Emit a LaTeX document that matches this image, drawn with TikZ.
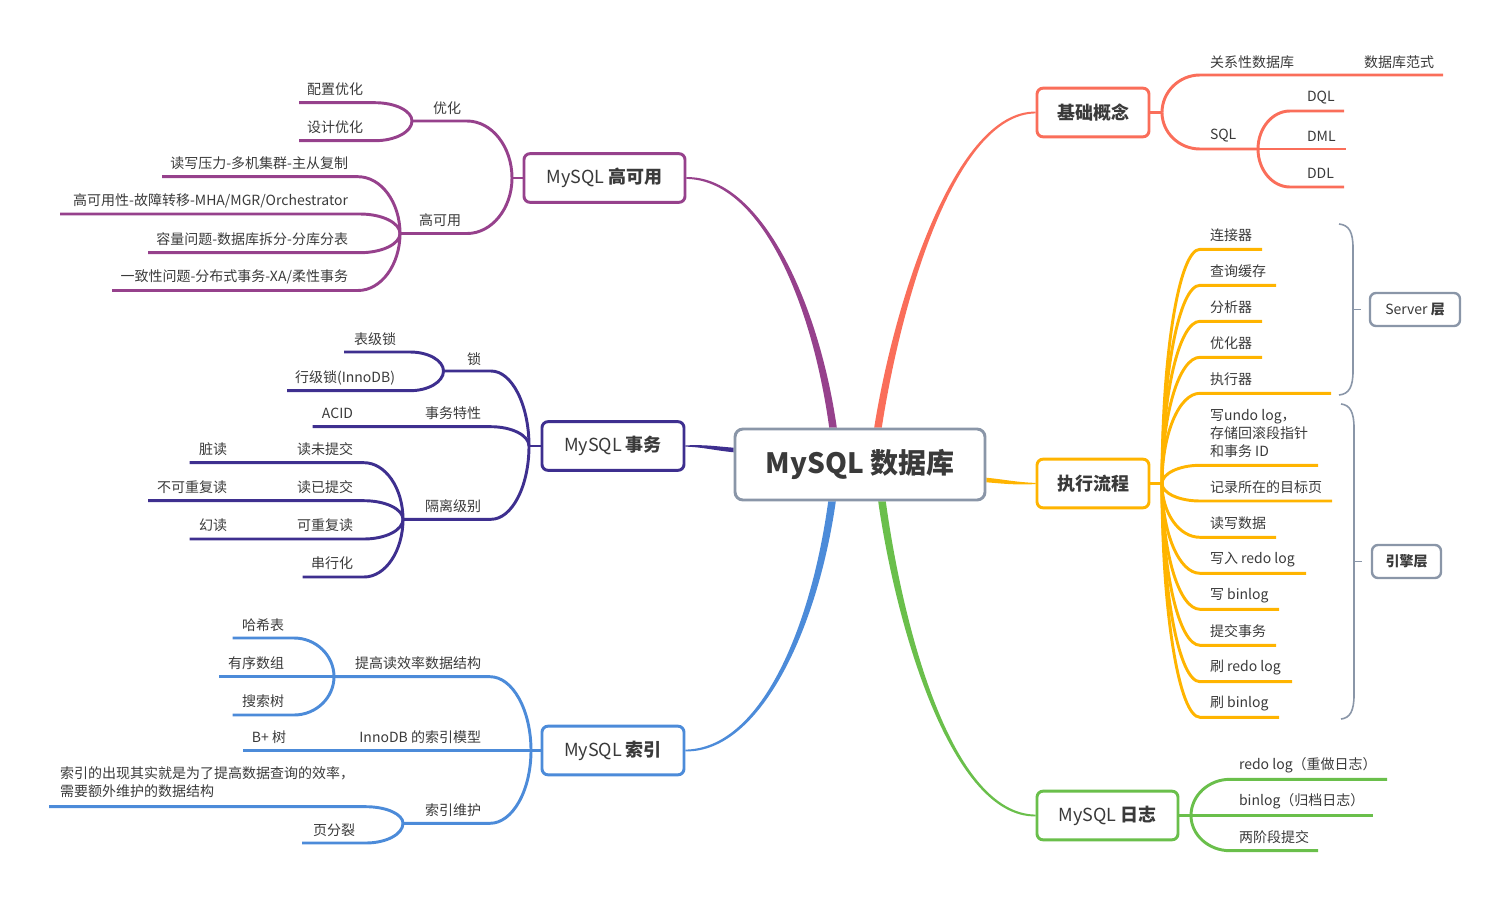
\documentclass[tikz,border=0pt]{standalone}
\usepackage{fontspec}
\setmainfont{Noto Sans CJK SC}
\usetikzlibrary{calc}
\pgfdeclarelayer{bg}
\pgfsetlayers{bg,main}
\definecolor{cRed}{HTML}{FA6E5A}
\definecolor{cYel}{HTML}{FFB400}
\definecolor{cGrn}{HTML}{6ABF4B}
\definecolor{cPur}{HTML}{96418C}
\definecolor{cInd}{HTML}{3E2F8F}
\definecolor{cBlu}{HTML}{4C8BD9}
\definecolor{cGry}{HTML}{8A96A8}
\definecolor{cTxt}{HTML}{3A3A3A}
\newcommand\kid[3]{\draw (#1) .. controls ($(#1)!0.55!(#1|-#2)$) and ($(#2)!0.55!(#1|-#2)$) .. (#2) -- (#3);}
\newcommand\taper[7]{\fill[#7] ($(#1)+#5$) .. controls ($(#2)+0.9*#5$) and ($(#3)+2.4*#6$) .. ($(#4)+#6$) -- ($(#4)-#6$) .. controls ($(#3)-2.4*#6$) and ($(#2)-0.9*#5$) .. ($(#1)-#5$) -- cycle;}
\tikzset{
  lbl/.style={font=\fontsize{10.5}{13.5}\selectfont, text=cTxt, inner sep=0pt, outer sep=0pt},
  lblL/.style={lbl, anchor=east},
  lblR/.style={lbl, anchor=west},
  topic/.style={draw, fill=white, rounded corners=4.5pt, line width=2.2pt, inner sep=0pt, text=cTxt, font=\fontsize{13.5}{16}\selectfont, minimum height=36.5pt},
  stopic/.style={draw=cGry, fill=white, rounded corners=4.5pt, line width=1.8pt, inner sep=0pt, text=cTxt, font=\fontsize{10.5}{13}\selectfont, minimum height=24.75pt},
  sub/.style={line width=2.2pt},
  brace/.style={draw=cGry, line width=1.2pt}
}
\begin{document}
\begin{tikzpicture}[x=0.75pt,y=-0.75pt]
\useasboundingbox (0,0) rectangle (1510,903);

% ---------- topics ----------
\node[draw=cGry, fill=white, rounded corners=6pt, line width=2.2pt, minimum width=187.5pt, minimum height=53.25pt, inner sep=0pt, font=\fontsize{21}{25}\selectfont\bfseries, text=cTxt] (root) at (860,464.5) {MySQL 数据库};
\node[topic, draw=cPur, minimum width=120.75pt] (ha) at (604.5,178) {MySQL \textbf{高可用}};
\node[topic, draw=cInd, minimum width=106.5pt] (tx) at (613,446) {MySQL \textbf{事务}};
\node[topic, draw=cBlu, minimum width=106.5pt] (idx) at (613,750.5) {MySQL \textbf{索引}};
\node[topic, draw=cRed, minimum width=84pt] (basic) at (1093,112.5) {\textbf{基础概念}};
\node[topic, draw=cYel, minimum width=84pt] (exec) at (1093,483.5) {\textbf{执行流程}};
\node[topic, draw=cGrn, minimum width=105.75pt] (log) at (1107.5,815.5) {MySQL \textbf{日志}};
\node[stopic, minimum width=67.5pt] (srv) at (1415,309.5) {Server \textbf{层}};
\node[stopic, minimum width=51.75pt] (eng) at (1406.5,561.5) {\textbf{引擎层}};

% ---------- main tapered connectors ----------
\begin{pgfonlayer}{bg}
\coordinate (aha) at ($(root.north)+(-27,0)$);
\coordinate (abs) at ($(root.north)+(18,0)$);
\coordinate (aix) at ($(root.south)+(-28,0)$);
\coordinate (alg) at ($(root.south)+(22,0)$);
\coordinate (atx) at ($(root.west)+(0,-14.5)$);
\coordinate (aex) at ($(root.east)+(0,15.5)$);
\taper{aha}{815,300}{760,178}{ha.east}{(-3.8,0)}{(0,0.9)}{cPur}
\taper{abs}{898,300}{955,112.5}{basic.west}{(-3.8,0)}{(0,-0.9)}{cRed}
\taper{aix}{814,630}{760,750.5}{idx.east}{(3.8,0)}{(0,0.9)}{cBlu}
\taper{alg}{900,630}{952,815.5}{log.west}{(3.8,0)}{(0,-0.9)}{cGrn}
\taper{atx}{712,448}{705,446}{tx.east}{(0,2.3)}{(0,0.6)}{cInd}
\taper{aex}{1008,482}{1015,483.5}{exec.west}{(0,2.3)}{(0,0.6)}{cYel}
\end{pgfonlayer}

% ---------- MySQL 高可用 ----------
\begin{scope}[draw=cPur, sub]
\coordinate (jh) at (512,178);
\draw (ha.west) -- (jh);
\coordinate (yhs) at (467,121); \coordinate (jyh) at (412,121);
\kid{jh}{yhs}{jyh}
\coordinate (pzs) at (375,102.7); \coordinate (pze) at (299,102.7);
\kid{jyh}{pzs}{pze}
\coordinate (sjs) at (375,140.7); \coordinate (sje) at (299,140.7);
\kid{jyh}{sjs}{sje}
\coordinate (gks) at (467,233.5); \coordinate (jgk) at (400,233.5);
\kid{jh}{gks}{jgk}
\coordinate (h1s) at (358,176.7); \coordinate (h1e) at (162,176.7);
\kid{jgk}{h1s}{h1e}
\coordinate (h2s) at (360,214); \coordinate (h2e) at (60,214);
\kid{jgk}{h2s}{h2e}
\coordinate (h3s) at (360,252.7); \coordinate (h3e) at (148,252.7);
\kid{jgk}{h3s}{h3e}
\coordinate (h4s) at (358,290.5); \coordinate (h4e) at (112,290.5);
\kid{jgk}{h4s}{h4e}
\end{scope}
\node[lblL] (t-pz) at (363,89) {配置优化};
\node[lblL] (t-sj) at (363,127) {设计优化};
\node[lblL] (t-yh) at (461,108) {优化};
\node[lblL] (t-gk) at (461,220) {高可用};
\node[lblL] (t-h1) at (348,163) {读写压力-多机集群-主从复制};
\node[lblL] (t-h2) at (348,201) {高可用性-故障转移-MHA/MGR/Orchestrator};
\node[lblL] (t-h3) at (348,239) {容量问题-数据库拆分-分库分表};
\node[lblL] (t-h4) at (348,277) {一致性问题-分布式事务-XA/柔性事务};

% ---------- MySQL 事务 ----------
\begin{scope}[draw=cInd, sub]
\coordinate (jt) at (529,446);
\draw (tx.west) -- (jt);
\coordinate (lks) at (491,371); \coordinate (jlk) at (443.5,371);
\kid{jt}{lks}{jlk}
\coordinate (l1s) at (410,352); \coordinate (l1e) at (344,352);
\kid{jlk}{l1s}{l1e}
\coordinate (l2s) at (410,390.7); \coordinate (l2e) at (287,390.7);
\kid{jlk}{l2s}{l2e}
\coordinate (tps) at (491,426.7); \coordinate (tpe) at (312.5,426.7);
\kid{jt}{tps}{tpe}
\coordinate (gls) at (491,519.3); \coordinate (jgl) at (403,519.3);
\kid{jt}{gls}{jgl}
\coordinate (g1s) at (364,462.7); \coordinate (g1e) at (189.5,462.7);
\kid{jgl}{g1s}{g1e}
\coordinate (g2s) at (364,500.7); \coordinate (g2e) at (148,500.7);
\kid{jgl}{g2s}{g2e}
\coordinate (g3s) at (364,539); \coordinate (g3e) at (189.5,539);
\kid{jgl}{g3s}{g3e}
\coordinate (g4s) at (364,577); \coordinate (g4e) at (302.6,577);
\kid{jgl}{g4s}{g4e}
\end{scope}
\node[lblL] (t-l1) at (396,339) {表级锁};
\node[lblL] (t-l2) at (395,378) {行级锁(InnoDB)};
\node[lblL] (t-lk) at (481,359) {锁};
\node[lblL] (t-tp) at (481,413) {事务特性};
\node[lblL] (t-acid) at (353,413) {ACID};
\node[lblL] (t-gl) at (481,506) {隔离级别};
\node[lblL] (t-g1) at (353,449) {读未提交};
\node[lblL] (t-g1a) at (227,449) {脏读};
\node[lblL] (t-g2) at (353,487) {读已提交};
\node[lblL] (t-g2a) at (227,487) {不可重复读};
\node[lblL] (t-g3) at (353,525) {可重复读};
\node[lblL] (t-g3a) at (227,525) {幻读};
\node[lblL] (t-g4) at (353,563) {串行化};

% ---------- MySQL 索引 ----------
\begin{scope}[draw=cBlu, sub]
\coordinate (ji) at (531,750.5);
\draw (idx.west) -- (ji);
\coordinate (dss) at (490,676.7); \coordinate (jds) at (334,676.7);
\kid{ji}{dss}{jds}
\coordinate (d1s) at (294,638); \coordinate (d1e) at (232.5,638);
\kid{jds}{d1s}{d1e}
\coordinate (d2e) at (219,676.7);
\draw (jds) -- (d2e);
\coordinate (d3s) at (294,715); \coordinate (d3e) at (232.5,715);
\kid{jds}{d3s}{d3e}
\coordinate (ime) at (243,750.5);
\draw (ji) -- (ime);
\coordinate (whs) at (490,823.3); \coordinate (jwh) at (403,823.3);
\kid{ji}{whs}{jwh}
\coordinate (w1s) at (366,806.7); \coordinate (w1e) at (49,806.7);
\kid{jwh}{w1s}{w1e}
\coordinate (w2s) at (366,843); \coordinate (w2e) at (302,843);
\kid{jwh}{w2s}{w2e}
\end{scope}
\node[lblL] (t-ds) at (481,663) {提高读效率数据结构};
\node[lblL] (t-d1) at (284,625) {哈希表};
\node[lblL] (t-d2) at (284,663) {有序数组};
\node[lblL] (t-d3) at (284,701) {搜索树};
\node[lblL] (t-im) at (481,737) {InnoDB 的索引模型};
\node[lblL] (t-bp) at (286,737) {B+ 树};
\node[lblL] (t-wh) at (481,810) {索引维护};
\node[lblR, align=left] (t-w1) at (60,782) {索引的出现其实就是为了提高数据查询的效率，\\需要额外维护的数据结构};
\node[lblL] (t-w2) at (355,830) {页分裂};

% ---------- 基础概念 ----------
\begin{scope}[draw=cRed, sub]
\coordinate (jb) at (1162,112.5);
\draw (basic.east) -- (jb);
\coordinate (rels) at (1200,75); \coordinate (rele) at (1443,75);
\kid{jb}{rels}{rele}
\coordinate (sqls) at (1200,149); \coordinate (jsql) at (1258,149);
\kid{jb}{sqls}{jsql}
\coordinate (dqls) at (1290,111); \coordinate (dqle) at (1344,111);
\kid{jsql}{dqls}{dqle}
\coordinate (dmle) at (1346,149);
\draw (jsql) -- (dmle);
\coordinate (ddls) at (1290,187); \coordinate (ddle) at (1344,187);
\kid{jsql}{ddls}{ddle}
\end{scope}
\node[lblR] (t-rel) at (1210,62) {关系性数据库};
\node[lblR] (t-nf) at (1364,62) {数据库范式};
\node[lblR] (t-sql) at (1210,136) {SQL};
\node[lblR] (t-dql) at (1307,97.5) {DQL};
\node[lblR] (t-dml) at (1307,136) {DML};
\node[lblR] (t-ddl) at (1307,173.5) {DDL};

% ---------- 执行流程 ----------
\begin{scope}[draw=cYel, sub]
\coordinate (jx) at (1162,483.5);
\draw (exec.east) -- (jx);
\coordinate (x1s) at (1200,249.3); \coordinate (x1e) at (1262,249.3); \kid{jx}{x1s}{x1e}
\coordinate (x2s) at (1200,285.3); \coordinate (x2e) at (1276,285.3); \kid{jx}{x2s}{x2e}
\coordinate (x3s) at (1200,321.3); \coordinate (x3e) at (1262,321.3); \kid{jx}{x3s}{x3e}
\coordinate (x4s) at (1200,357.3); \coordinate (x4e) at (1262,357.3); \kid{jx}{x4s}{x4e}
\coordinate (x5s) at (1200,393.3); \coordinate (x5e) at (1331,393.3); \kid{jx}{x5s}{x5e}
\coordinate (x6s) at (1200,465.3); \coordinate (x6e) at (1318,465.3); \kid{jx}{x6s}{x6e}
\coordinate (x7s) at (1200,501); \coordinate (x7e) at (1332,501); \kid{jx}{x7s}{x7e}
\coordinate (x8s) at (1200,537.3); \coordinate (x8e) at (1276,537.3); \kid{jx}{x8s}{x8e}
\coordinate (x9s) at (1200,573.3); \coordinate (x9e) at (1306,573.3); \kid{jx}{x9s}{x9e}
\coordinate (xas) at (1200,609.3); \coordinate (xae) at (1279,609.3); \kid{jx}{xas}{xae}
\coordinate (xbs) at (1200,645.3); \coordinate (xbe) at (1276,645.3); \kid{jx}{xbs}{xbe}
\coordinate (xcs) at (1200,681.7); \coordinate (xce) at (1292,681.7); \kid{jx}{xcs}{xce}
\coordinate (xds) at (1200,717.3); \coordinate (xde) at (1279,717.3); \kid{jx}{xds}{xde}
\end{scope}
\node[lblR] (t-x1) at (1210,235.5) {连接器};
\node[lblR] (t-x2) at (1210,271.5) {查询缓存};
\node[lblR] (t-x3) at (1210,307.5) {分析器};
\node[lblR] (t-x4) at (1210,343.5) {优化器};
\node[lblR] (t-x5) at (1210,379.5) {执行器};
\node[lblR, align=left] (t-x6) at (1210,433.5) {写undo log，\\存储回滚段指针\\和事务 ID};
\node[lblR] (t-x7) at (1210,487.5) {记录所在的目标页};
\node[lblR] (t-x8) at (1210,523.5) {读写数据};
\node[lblR] (t-x9) at (1210,559.5) {写入 redo log};
\node[lblR] (t-xa) at (1210,595.5) {写 binlog};
\node[lblR] (t-xb) at (1210,631.5) {提交事务};
\node[lblR] (t-xc) at (1210,667.5) {刷 redo log};
\node[lblR] (t-xd) at (1210,703.5) {刷 binlog};

% braces
\draw[brace] (1339,224) .. controls (1349,225) and (1353,232) .. (1353,248) -- (1353,371) .. controls (1353,387) and (1349,394) .. (1339,395);
\coordinate (sbm) at (1353,309.5); \coordinate (sbt) at (1361,309.5);
\draw[brace] (sbm) -- (sbt);
\draw[brace] (1341,404) .. controls (1350,405) and (1354,412) .. (1354,428) -- (1354,695) .. controls (1354,711) and (1350,718) .. (1341,719);
\coordinate (ebm) at (1354,561.5); \coordinate (ebt) at (1362,561.5);
\draw[brace] (ebm) -- (ebt);

% ---------- MySQL 日志 ----------
\begin{scope}[draw=cGrn, sub]
\coordinate (jl) at (1191,815.5);
\draw (log.east) -- (jl);
\coordinate (r1s) at (1230,779.3); \coordinate (r1e) at (1387,779.3);
\kid{jl}{r1s}{r1e}
\coordinate (r2e) at (1373,815.5);
\draw (jl) -- (r2e);
\coordinate (r3s) at (1230,850.7); \coordinate (r3e) at (1318,850.7);
\kid{jl}{r3s}{r3e}
\end{scope}
\node[lblR] (t-r1) at (1239,765.5) {redo log（重做日志）};
\node[lblR] (t-r2) at (1239,801.5) {binlog（归档日志）};
\node[lblR] (t-r3) at (1239,837.5) {两阶段提交};

\end{tikzpicture}
\end{document}
